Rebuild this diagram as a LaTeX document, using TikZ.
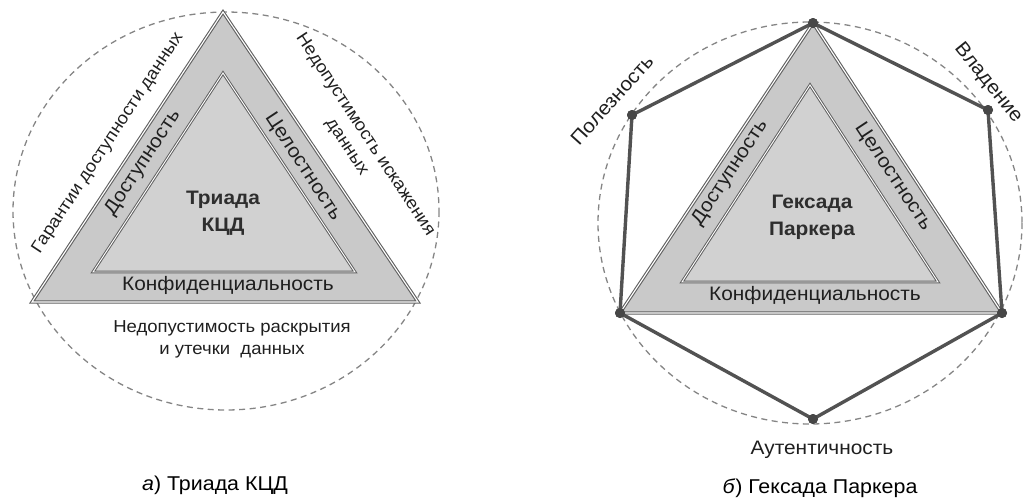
\documentclass[tikz,border=0pt]{standalone}
\usepackage{fontspec}
\setmainfont{Liberation Sans}[FakeStretch=1.07]
\usetikzlibrary{positioning, calc}

\begin{document}
\begin{tikzpicture}[
  x=1pt, y=-1pt,
  band/.style={fill=gray!42, draw=black!62, line width=1.1pt, double=white, double distance=1.1pt, line join=miter},
  core/.style={fill=gray!36, draw=black!62, line width=1pt, double=white, double distance=0.9pt, line join=miter},
  ring/.style={draw=black!48, line width=1.3pt, dash pattern=on 6pt off 4.5pt},
  hexa/.style={draw=black!68, line width=3.4pt, line join=round},
  dot/.style={circle, fill=black!72, inner sep=0pt, minimum size=10pt},
  lbl/.style={font=\fontsize{19.5}{23}\selectfont, text=black!88, inner sep=0pt},
  side/.style={font=\fontsize{17.3}{22}\selectfont, text=black!88, inner sep=0pt, align=center},
  title/.style={font=\bfseries\fontsize{19.5}{27}\selectfont, text=black!82, align=center},
  caption/.style={font=\fontsize{20}{22}\selectfont, text=black}
]
  \useasboundingbox (0,0) rectangle (1029,499);

  % a) triad
  \draw[ring] (226,211) ellipse [x radius=213, y radius=199];
  \coordinate (ta) at (223,12);
  \coordinate (tl) at (32,302);
  \coordinate (tr) at (418,302);
  \draw[band] (ta) -- (tr) -- (tl) -- cycle;
  \draw[core] (223,73) -- (355,272) -- (93,272) -- cycle;
  \node[title] (triad) at (223,213) {Триада\\КЦД};
  \node[lbl] (conf) at (228,285) {Конфиденциальность};
  \node[lbl, rotate=56.6] (avail) at (143,163) {Доступность};
  \node[lbl, rotate=-56.6] (integ) at (303,167) {Целостность};
  \node[side, rotate=56.6] (guar) at (108,143) {Гарантии доступности данных};
  \node[side, rotate=-56.6] (nodist) at (356,141) {Недопустимость искажения\\данных};
  \node[side] (noleak) at (232,339) {Недопустимость раскрытия\\и утечки\ \ данных};
  \node[caption] (capa) at (215,485) {\textit{а}) Триада КЦД};

  % b) hexad
  \draw[ring] (810,223) ellipse [x radius=212, y radius=201];
  \coordinate (ha) at (813,23);
  \coordinate (hl) at (620,313);
  \coordinate (hr) at (1002,313);
  \draw[band] (ha) -- (hr) -- (hl) -- cycle;
  \draw[core] (810,85) -- (938,282) -- (682,282) -- cycle;
  \node[dot] (pa) at (ha) {};
  \node[dot] (pb) at (988,110) {};
  \node[dot] (pc) at (hr) {};
  \node[dot] (pd) at (813,419) {};
  \node[dot] (pe) at (hl) {};
  \node[dot] (pf) at (632,115) {};
  \draw[hexa] (pa.center) -- (pb.center) -- (pc.center) -- (pd.center) -- (pe.center) -- (pf.center) -- cycle;
  \foreach \p in {pa,pb,pc,pd,pe,pf}
    \fill[black!72] (\p) circle (5);
  \node[title] (hexad) at (812,217) {Гексада\\Паркера};
  \node[lbl] (conf2) at (815,295) {Конфиденциальность};
  \node[lbl, rotate=56.5] (avail2) at (730,173) {Доступность};
  \node[lbl, rotate=-56.5] (integ2) at (893,177) {Целостность};
  \node[lbl, rotate=48] (util) at (612,100) {Полезность};
  \node[lbl, rotate=-51] (poss) at (988,83) {Владение};
  \node[lbl] (auth) at (822,450) {Аутентичность};
  \node[caption] (capb) at (820,488) {\textit{б}) Гексада Паркера};
\end{tikzpicture}
\end{document}
